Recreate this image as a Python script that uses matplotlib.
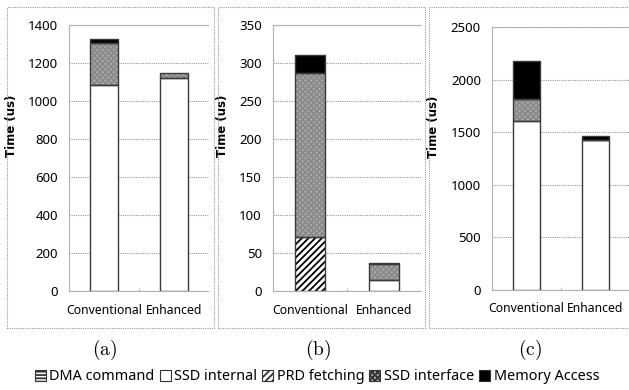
import matplotlib
matplotlib.use("Agg")
import matplotlib.pyplot as plt
from matplotlib.patches import Rectangle, Patch

plt.rcParams['font.family'] = ['Noto Sans', 'DejaVu Sans']
plt.rcParams['mathtext.fontset'] = 'cm'
plt.rcParams['hatch.linewidth'] = 1.3

categories = ["Conventional", "Enhanced"]
components = ["DMA command", "SSD internal", "PRD fetching", "SSD interface", "Memory Access"]

# panel (a)
a_dma = [0, 0]
a_internal = [1085, 1120]
a_prd = [0, 0]
a_interface = [220, 25]
a_memory = [22, 0]
# panel (b)
b_dma = [0, 0]
b_internal = [0, 14]
b_prd = [71, 0]
b_interface = [216, 22]
b_memory = [23, 1.5]
# panel (c)
c_dma = [0, 0]
c_internal = [1610, 1425]
c_prd = [0, 0]
c_interface = [210, 5]
c_memory = [360, 30]

panel_labels = ["(a)", "(b)", "(c)"]
yticks_a = [0, 200, 400, 600, 800, 1000, 1200, 1400]
yticks_b = [0, 50, 100, 150, 200, 250, 300, 350]
yticks_c = [0, 500, 1000, 1500, 2000, 2500]

styles = {
    "DMA command": dict(face="white", hatch="-----", hc="black"),
    "SSD internal": dict(face="white", hatch=None, hc="black"),
    "PRD fetching": dict(face="white", hatch="/////", hc="black"),
    "SSD interface": dict(face="#ababab", hatch="xxxxxx", hc="#8a8a8a"),
    "Memory Access": dict(face="black", hatch=None, hc="black"),
}

W, H = 629, 390
fig = plt.figure(figsize=(W / 100, H / 100), dpi=100)

panels = [
    dict(data=[a_dma, a_internal, a_prd, a_interface, a_memory], ticks=yticks_a,
         ax=(69, 25, 209, 291), box=(7, 7, 214, 328), lab=105),
    dict(data=[b_dma, b_internal, b_prd, b_interface, b_memory], ticks=yticks_b,
         ax=(273, 25, 421, 291), box=(218, 7, 425, 328), lab=318),
    dict(data=[c_dma, c_internal, c_prd, c_interface, c_memory], ticks=yticks_c,
         ax=(492, 27, 630, 290), box=(429, 7, 640, 328), lab=530),
]

grid_c = "#9a9a9a"
x = list(range(len(categories)))
for i, p in enumerate(panels):
    x0, y0, x1, y1 = p["ax"]
    ax = fig.add_axes([x0 / W, 1 - y1 / H, (x1 - x0) / W, (y1 - y0) / H])
    bottoms = [0.0] * len(categories)
    for name, vals in zip(components, p["data"]):
        st = styles[name]
        for j in x:
            v = vals[j]
            if v <= 0:
                continue
            ax.bar(j, v, bottom=bottoms[j], width=0.4, color=st["face"],
                   hatch=st["hatch"], edgecolor=st["hc"], linewidth=0, zorder=3)
            ax.bar(j, v, bottom=bottoms[j], width=0.4, fill=False,
                   edgecolor="#3a3a3a", linewidth=1.0, zorder=4)
            bottoms[j] += v
    ax.set_xlim(-0.5, 1.5)
    ax.set_ylim(p["ticks"][0], p["ticks"][-1])
    ax.set_yticks(p["ticks"])
    ax.set_xticks(x)
    ax.set_xticklabels(categories, fontsize=8.8)
    ax.tick_params(axis='y', length=0, pad=8, labelsize=9.5)
    ax.tick_params(axis='x', length=0, pad=9)
    ax.set_xticks([0.5], minor=True)
    ax.tick_params(axis='x', which='minor', direction='in', length=2, color="#aaaaaa")
    ax.yaxis.grid(True, linestyle=(0, (1, 1)), color=grid_c, linewidth=0.8, zorder=0)
    ax.set_axisbelow(True)
    for s in ["left", "top", "bottom"]:
        ax.spines[s].set_linestyle((0, (1, 1)))
        ax.spines[s].set_color("#b0b0b0")
        ax.spines[s].set_linewidth(0.8)
    ax.spines["right"].set_visible(False)
    ax.set_ylabel("Time (us)", fontsize=8.5, fontweight="bold", family="DejaVu Sans")
    ax.yaxis.set_label_coords((p["box"][0] + 11 - x0) / (x1 - x0), 0.62)

    bx0, by0, bx1, by1 = p["box"]
    fig.add_artist(Rectangle((bx0 / W, 1 - by1 / H), (bx1 - bx0) / W, (by1 - by0) / H,
                             transform=fig.transFigure, fill=False, edgecolor="#999999",
                             linestyle=(0, (1, 1)), linewidth=0.8))
    fig.text(p["lab"] / W, 1 - 350 / H, r"$\mathrm{%s}$" % panel_labels[i], fontsize=14,
             ha="center", va="center")

handles = []
for name in components:
    st = styles[name]
    handles.append(Patch(facecolor=st["face"], hatch=st["hatch"], edgecolor="#333333",
                         linewidth=0.8, label=name))
fig.legend(handles=handles, loc="center", bbox_to_anchor=(317 / W, 1 - 377 / H), ncol=5,
           frameon=False, fontsize=10.4, handlelength=0.75, handleheight=0.75,
           handletextpad=0.25, columnspacing=0.35, borderpad=0)

fig.savefig("out.png", dpi=100)
